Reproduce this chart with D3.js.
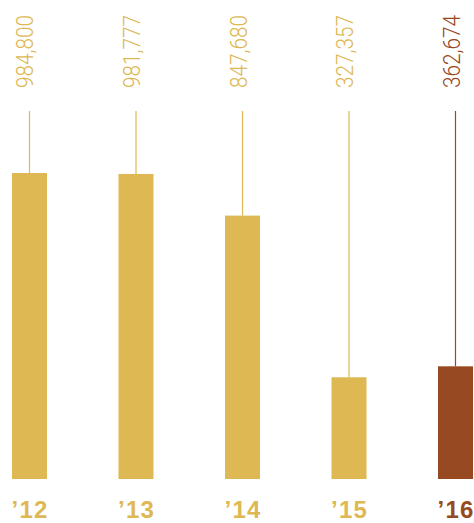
<!DOCTYPE html>
<html><head><meta charset="utf-8">
<script src="https://cdn.jsdelivr.net/npm/d3@7"></script>
<style>body{margin:0;background:#fff}svg{display:block}</style>
</head><body>
<script>
const years = ["’12","’13","’14","’15","’16"];
const values = [984800, 981777, 847680, 327357, 362674];
const highlight = [false, false, false, false, true];

const W = 474, H = 523;
const gold = "#DDB853", rust = "#974A22";
const svg = d3.select("body").append("svg").attr("width", W).attr("height", H);

const x = d3.scaleBand().domain(years).range([12, 473]).paddingInner(0.6714).paddingOuter(0);
const y = d3.scaleLinear().domain([0, 984800]).range([479, 173]);
const col = i => highlight[i] ? rust : gold;

const g = svg.append("g");
years.forEach((yr, i) => {
  const cx = x(yr) + x.bandwidth() / 2;
  g.append("line").attr("x1", cx).attr("x2", cx).attr("y1", 111).attr("y2", y(values[i]))
    .attr("stroke", col(i)).attr("stroke-width", 1.2);
  g.append("rect").attr("x", x(yr)).attr("width", x.bandwidth())
    .attr("y", y(values[i])).attr("height", y(0) - y(values[i])).attr("fill", col(i));
  g.append("text").attr("transform", `translate(${cx + 4},15) rotate(-90)`)
    .attr("text-anchor", "end").attr("font-family", "Roboto").attr("font-weight", 300)
    .attr("font-size", 23).attr("fill", col(i))
    .attr("textLength", 73).attr("lengthAdjust", "spacingAndGlyphs")
    .text(d3.format(",")(values[i]));
  g.append("text").attr("x", cx + 0.6).attr("y", 518).attr("text-anchor", "middle")
    .attr("font-family", "Liberation Sans").attr("font-weight", "bold")
    .attr("font-size", 24).attr("letter-spacing", 1.2).attr("fill", col(i)).text(yr);
});
</script>
</body></html>
